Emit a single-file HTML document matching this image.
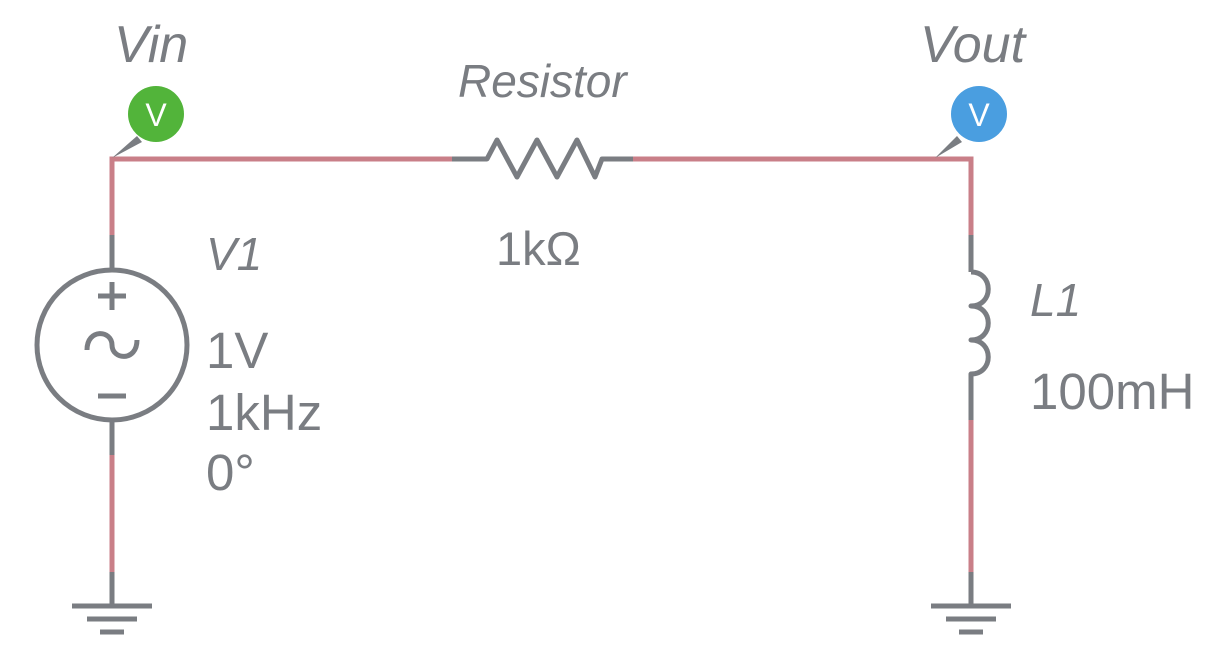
<!DOCTYPE html>
<html><head><meta charset="utf-8"><style>
html,body{margin:0;padding:0;background:#fff;}
svg{display:block;}
text{font-family:"Liberation Sans",sans-serif;fill:#7a7d82;}
</style></head><body>
<svg width="1220" height="660" viewBox="0 0 1220 660">
<g fill="none" stroke-width="5" stroke-linecap="butt">
  <g stroke="#c97f88">
    <polyline points="112,235 112,159 452,159"/>
    <polyline points="633,159 971,159 971,235"/>
    <line x1="112" y1="455" x2="112" y2="572"/>
    <line x1="971" y1="420" x2="971" y2="572"/>
  </g>
  <g stroke="#7a7d82" stroke-linejoin="round">
    <g>
      <polyline points="452,159 487,159 497,140 517,177 537,140 557,177 577,140 595,177 602,159 633,159"/>
    </g>
    <g>
      <line x1="112" y1="235" x2="112" y2="269"/>
      <circle cx="112" cy="345" r="75"/>
      <line x1="112" y1="421" x2="112" y2="455"/>
      <line x1="98" y1="296" x2="126" y2="296"/>
      <line x1="112" y1="282" x2="112" y2="310"/>
      <line x1="98" y1="396" x2="126" y2="396"/>
      <path d="M87,350 C87,328 112,330 112,345 C112,360 137,362 137,340"/>
    </g>
    <g>
      <line x1="971" y1="235" x2="971" y2="272"/>
      <path d="M971,272 C994,272 994,306 971,306 C994,306 994,340 971,340 C994,340 994,374 971,374 L971,420"/>
    </g>
    <g>
      <line x1="112" y1="572" x2="112" y2="606"/>
      <line x1="72" y1="606" x2="152" y2="606"/>
      <line x1="87" y1="619" x2="137" y2="619"/>
      <line x1="100" y1="632" x2="124" y2="632"/>
    </g>
    <g>
      <line x1="971" y1="572" x2="971" y2="606"/>
      <line x1="931" y1="606" x2="1011" y2="606"/>
      <line x1="946" y1="619" x2="996" y2="619"/>
      <line x1="959" y1="632" x2="983" y2="632"/>
    </g>
  </g>
</g>
<g>
  <polygon points="112,158 137,136 142,142" fill="#7a7d82"/>
  <circle cx="156" cy="114" r="28" fill="#52b43a"/>
  <text x="156" y="126" text-anchor="middle" font-size="32" style="fill:#fff">V</text>
</g>
<g>
  <polygon points="935,158 957,136 962,142" fill="#7a7d82"/>
  <circle cx="979" cy="114" r="28" fill="#4a9ee0"/>
  <text x="979" y="126" text-anchor="middle" font-size="32" style="fill:#fff">V</text>
</g>
<text x="114" y="62" font-size="52" font-style="italic">Vin</text>
<text x="920" y="62" font-size="52" font-style="italic">Vout</text>
<text x="458" y="97" font-size="46" font-style="italic">Resistor</text>
<text x="496" y="265" font-size="47">1kΩ</text>
<text x="206" y="270" font-size="46" font-style="italic">V1</text>
<text x="206" y="368" font-size="51">1V</text>
<text x="206" y="430" font-size="51">1kHz</text>
<text x="206" y="490" font-size="51">0°</text>
<text x="1030" y="316" font-size="46" font-style="italic">L1</text>
<text x="1030" y="409" font-size="51">100mH</text>
</svg>
</body></html>
